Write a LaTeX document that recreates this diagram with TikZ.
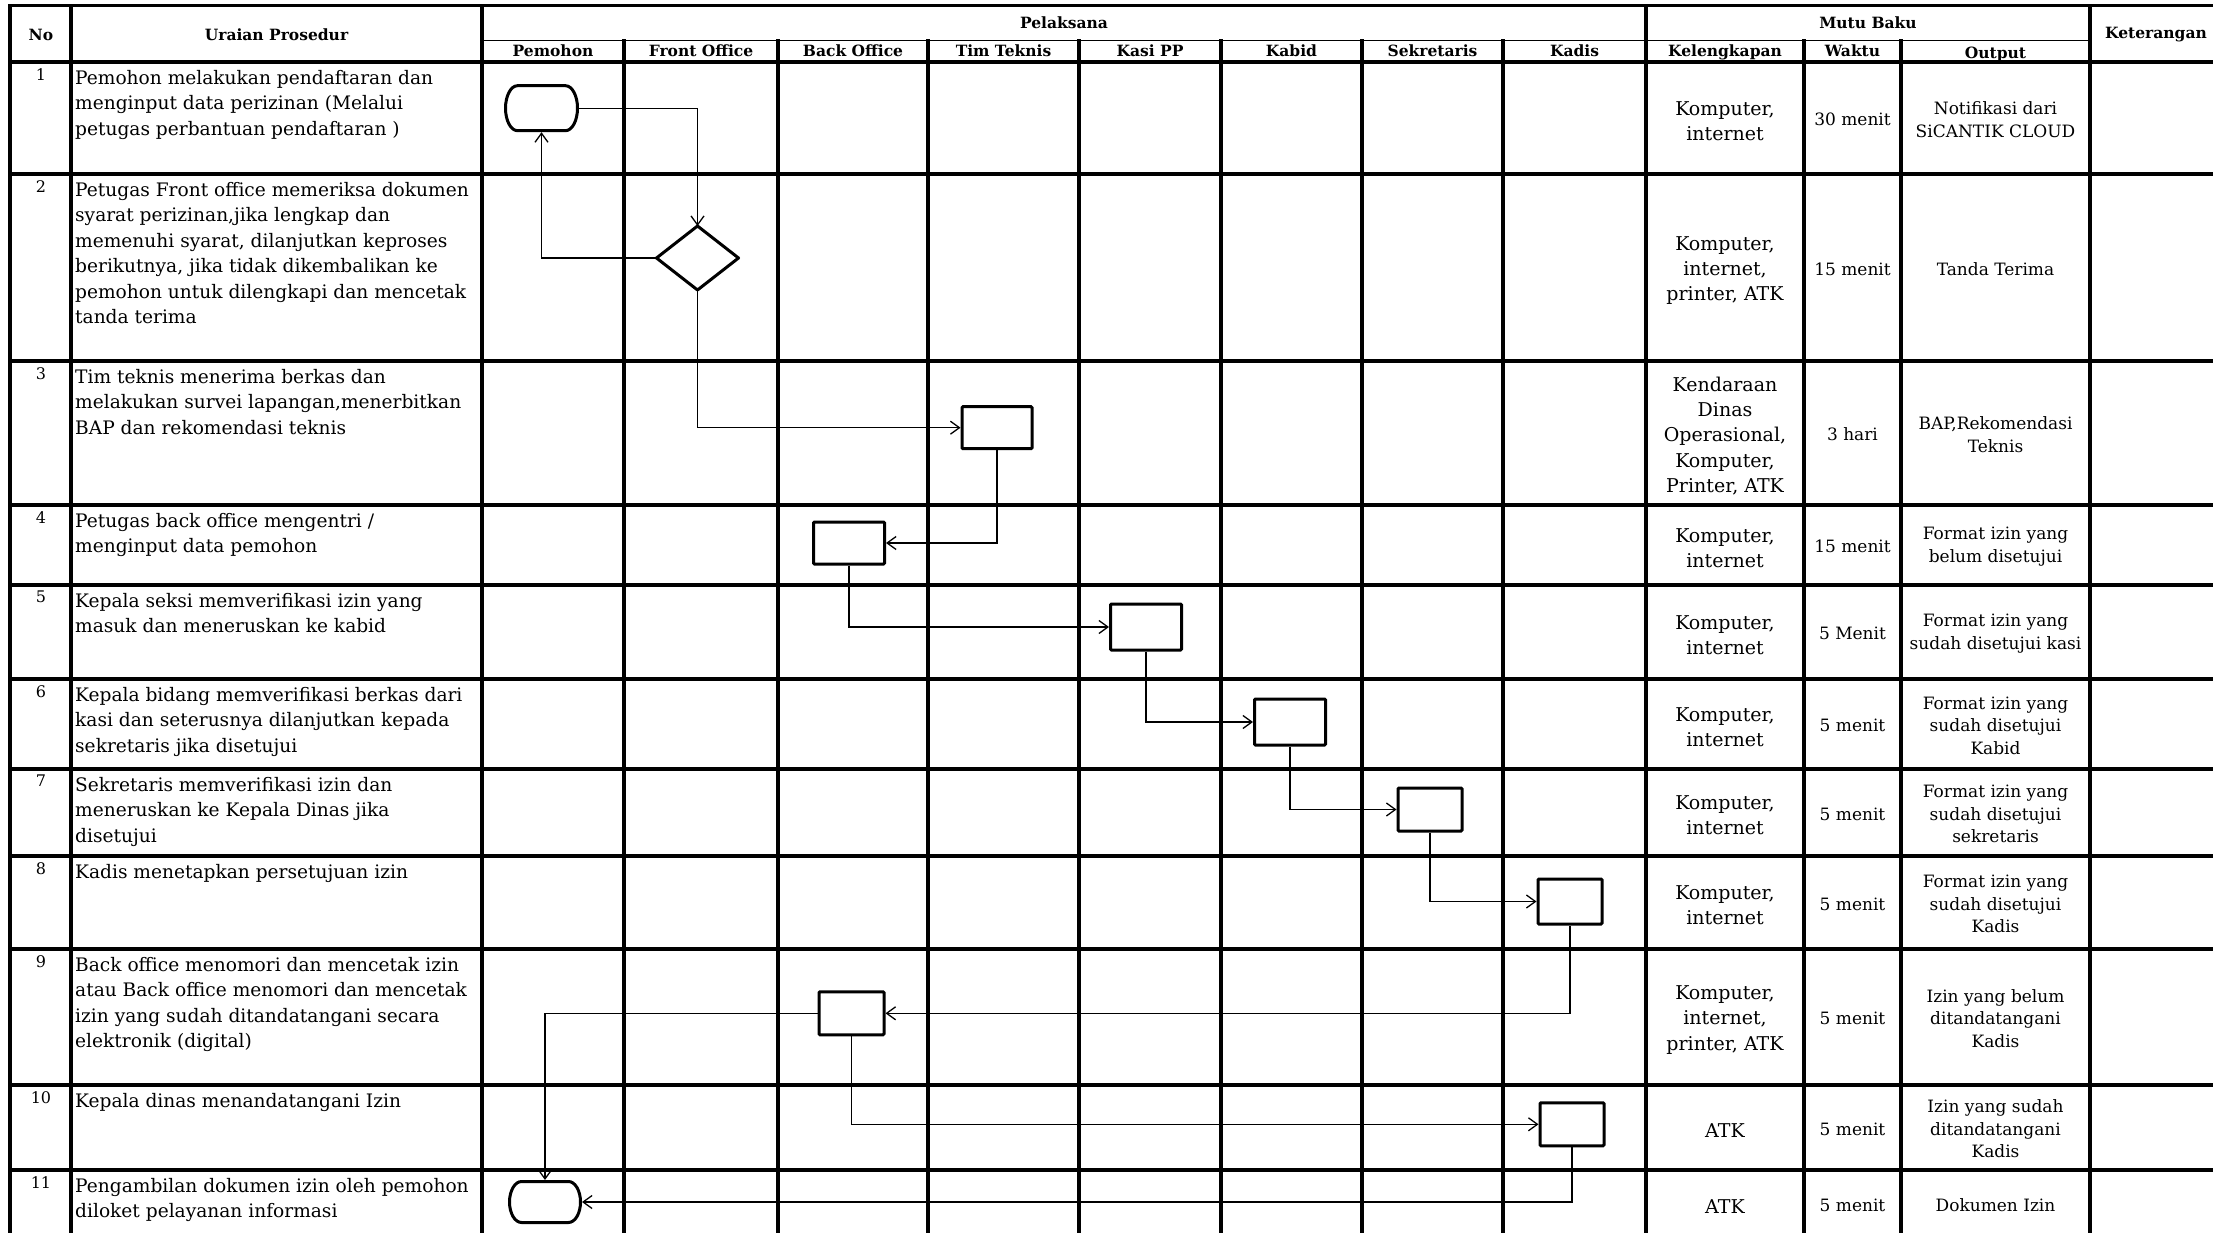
\documentclass[tikz,border=0pt]{standalone}
\usepackage{fontspec}
\setmainfont{DejaVu Serif}
\usetikzlibrary{arrows.meta}
\begin{document}
\begin{tikzpicture}[x=1pt,y=-1pt,
  grid/.style={line width=3.5pt,line cap=rect},
  thingrid/.style={line width=1.8pt},
  hdr/.style={font=\fontsize{15.5}{18}\selectfont\bfseries,inner sep=0,anchor=base},
  num/.style={font=\fontsize{16}{19}\selectfont,inner sep=0,anchor=north},
  uraian/.style={font=\fontsize{18.6}{25.4}\selectfont,inner sep=0,anchor=north west},
  lengkap/.style={font=\fontsize{19}{25.4}\selectfont,inner sep=0,align=center,yshift=-3pt},
  waktu/.style={font=\fontsize{17}{22}\selectfont,inner sep=0,yshift=-1.5pt},
  outp/.style={font=\fontsize{17}{22.6}\selectfont,inner sep=0,align=center,yshift=-1.5pt},
  procbox/.style={draw,line width=3pt,fill=white,inner sep=0,rounded corners=1pt},
  termbox/.style={inner sep=0,outer sep=0,minimum width=72pt,minimum height=45pt},
  shapeline/.style={line width=3pt,fill=white,line join=round},
  conn/.style={line width=1.3pt,-{Straight Barb[length=9pt,width=13pt,line width=1.3pt]}},
  toterm/.style={conn,shorten >=1.5pt}
]
\useasboundingbox (0,0) rectangle (2213,1233);
\clip (0,0) rectangle (2213,1233);
% ---------- grid ----------
\foreach \yy in {5.3,62,174,361,505,585,679,769,856,949,1085,1170}
  \draw[grid] (10,\yy) -- (2230,\yy);
\draw[thingrid] (482,40.5) -- (2090,40.5);
\foreach \xx in {10,71,482,1646,2090}
  \draw[grid] (\xx,5.3) -- (\xx,1250);
\foreach \xx in {624,778,928,1079,1221,1362,1503,1804,1901}
  \draw[grid] (\xx,40.5) -- (\xx,1250);
% ---------- header ----------
\node[hdr] (hno) at (41,40.7) {No};
\node[hdr] (hur) at (276.5,40.7) {Uraian Prosedur};
\node[hdr] (hpel) at (1064,28.3) {Pelaksana};
\node[hdr] (hmutu) at (1868,28.3) {Mutu Baku};
\node[hdr] (hket) at (2156,38.7) {Keterangan};
\node[hdr] (h1) at (553,57) {Pemohon};
\node[hdr] (h2) at (701,57) {Front Office};
\node[hdr] (h3) at (853,57) {Back Office};
\node[hdr] (h4) at (1003.5,57) {Tim Teknis};
\node[hdr] (h5) at (1150,57) {Kasi PP};
\node[hdr] (h6) at (1291.5,57) {Kabid};
\node[hdr] (h7) at (1432.5,57) {Sekretaris};
\node[hdr] (h8) at (1574.5,57) {Kadis};
\node[hdr] (h9) at (1725,57) {Kelengkapan};
\node[hdr] (h10) at (1852.5,57) {Waktu};
\node[hdr] (h11) at (1995.5,58.5) {Output};
% ---------- numbers ----------
\foreach \n/\yy in {1/62,2/174,3/361,4/505,5/585,6/679,7/769,8/856,9/949,10/1085,11/1170}
  \node[num] (n\n) at (41,\yy+6) {\n};
% ---------- uraian ----------
\node[uraian] (u1) at (75,66.5) {\parbox[t]{400pt}{\strut Pemohon melakukan pendaftaran dan\\menginput data perizinan (Melalui\\petugas perbantuan pendaftaran )}};
\node[uraian] (u2) at (75,178.5) {\parbox[t]{400pt}{\strut Petugas Front office memeriksa dokumen\\syarat perizinan,jika lengkap dan\\memenuhi syarat, dilanjutkan keproses\\berikutnya, jika tidak dikembalikan ke\\pemohon untuk dilengkapi dan mencetak\\tanda terima}};
\node[uraian] (u3) at (75,365.5) {\parbox[t]{400pt}{\strut Tim teknis menerima berkas dan\\melakukan survei lapangan,menerbitkan\\BAP dan rekomendasi teknis}};
\node[uraian] (u4) at (75,509.5) {\parbox[t]{400pt}{\strut Petugas back office mengentri /\\menginput data pemohon}};
\node[uraian] (u5) at (75,589.5) {\parbox[t]{400pt}{\strut Kepala seksi memverifikasi izin yang\\masuk dan meneruskan ke kabid}};
\node[uraian] (u6) at (75,683.5) {\parbox[t]{400pt}{\strut Kepala bidang memverifikasi berkas dari\\kasi dan seterusnya dilanjutkan kepada\\sekretaris jika disetujui}};
\node[uraian] (u7) at (75,773.5) {\parbox[t]{400pt}{\strut Sekretaris memverifikasi izin dan\\meneruskan ke Kepala Dinas jika\\disetujui}};
\node[uraian] (u8) at (75,860.5) {\parbox[t]{400pt}{\strut Kadis menetapkan persetujuan izin}};
\node[uraian] (u9) at (75,953.5) {\parbox[t]{400pt}{\strut Back office menomori dan mencetak izin\\atau Back office menomori dan mencetak\\izin yang sudah ditandatangani secara\\elektronik (digital)}};
\node[uraian] (u10) at (75,1089.5) {\parbox[t]{400pt}{\strut Kepala dinas menandatangani Izin}};
\node[uraian] (u11) at (75,1174.5) {\parbox[t]{400pt}{\strut Pengambilan dokumen izin oleh pemohon\\diloket pelayanan informasi}};
% ---------- kelengkapan ----------
\node[lengkap] (k1) at (1725,118) {Komputer,\\internet};
\node[lengkap] (k2) at (1725,267.5) {Komputer,\\internet,\\printer, ATK};
\node[lengkap] (k3) at (1725,433) {Kendaraan\\Dinas\\Operasional,\\Komputer,\\Printer, ATK};
\node[lengkap] (k4) at (1725,545) {Komputer,\\internet};
\node[lengkap] (k5) at (1725,632) {Komputer,\\internet};
\node[lengkap] (k6) at (1725,724) {Komputer,\\internet};
\node[lengkap] (k7) at (1725,812.5) {Komputer,\\internet};
\node[lengkap] (k8) at (1725,902.5) {Komputer,\\internet};
\node[lengkap] (k9) at (1725,1017) {Komputer,\\internet,\\printer, ATK};
\node[lengkap] (k10) at (1725,1127.5) {ATK};
\node[lengkap] (k11) at (1725,1204) {ATK};
% ---------- waktu ----------
\node[waktu] (w1) at (1852.5,118) {30 menit};
\node[waktu] (w2) at (1852.5,267.5) {15 menit};
\node[waktu] (w3) at (1852.5,433) {3 hari};
\node[waktu] (w4) at (1852.5,545) {15 menit};
\node[waktu] (w5) at (1852.5,632) {5 Menit};
\node[waktu] (w6) at (1852.5,724) {5 menit};
\node[waktu] (w7) at (1852.5,812.5) {5 menit};
\node[waktu] (w8) at (1852.5,902.5) {5 menit};
\node[waktu] (w9) at (1852.5,1017) {5 menit};
\node[waktu] (w10) at (1852.5,1127.5) {5 menit};
\node[waktu] (w11) at (1852.5,1204) {5 menit};
% ---------- output ----------
\node[outp] (o1) at (1995.5,118) {Notifikasi dari\\SiCANTIK CLOUD};
\node[outp] (o2) at (1995.5,267.5) {Tanda Terima};
\node[outp] (o3) at (1995.5,433) {BAP,Rekomendasi\\Teknis};
\node[outp] (o4) at (1995.5,545) {Format izin yang\\belum disetujui};
\node[outp] (o5) at (1995.5,632) {Format izin yang\\sudah disetujui kasi};
\node[outp] (o6) at (1995.5,724) {Format izin yang\\sudah disetujui\\Kabid};
\node[outp] (o7) at (1995.5,812.5) {Format izin yang\\sudah disetujui\\sekretaris};
\node[outp] (o8) at (1995.5,902.5) {Format izin yang\\sudah disetujui\\Kadis};
\node[outp] (o9) at (1995.5,1017) {Izin yang belum\\ditandatangani\\Kadis};
\node[outp] (o10) at (1995.5,1127.5) {Izin yang sudah\\ditandatangani\\Kadis};
\node[outp] (o11) at (1995.5,1204) {Dokumen Izin};
% ---------- flow shapes ----------
\node[termbox] (t1) at (541.5,108.2) {};
\draw[shapeline] ([xshift=12pt]t1.north west) -- ([xshift=-12pt]t1.north east)
  .. controls ([xshift=-5.4pt]t1.north east) and ([yshift=12.4pt]t1.east) .. (t1.east)
  .. controls ([yshift=-12.4pt]t1.east) and ([xshift=-5.4pt]t1.south east) .. ([xshift=-12pt]t1.south east)
  -- ([xshift=12pt]t1.south west)
  .. controls ([xshift=5.4pt]t1.south west) and ([yshift=-12.4pt]t1.west) .. (t1.west)
  .. controls ([yshift=12.4pt]t1.west) and ([xshift=5.4pt]t1.north west) .. cycle;
\node[termbox,minimum height=41pt,minimum width=71pt] (t2) at (545,1202) {};
\draw[shapeline] ([xshift=12pt]t2.north west) -- ([xshift=-12pt]t2.north east)
  .. controls ([xshift=-5.4pt]t2.north east) and ([yshift=11.3pt]t2.east) .. (t2.east)
  .. controls ([yshift=-11.3pt]t2.east) and ([xshift=-5.4pt]t2.south east) .. ([xshift=-12pt]t2.south east)
  -- ([xshift=12pt]t2.south west)
  .. controls ([xshift=5.4pt]t2.south west) and ([yshift=-11.3pt]t2.west) .. (t2.west)
  .. controls ([yshift=11.3pt]t2.west) and ([xshift=5.4pt]t2.north west) .. cycle;
\node[inner sep=0,outer sep=0,minimum width=82pt,minimum height=64pt] (d) at (697.5,258) {};
\draw[shapeline] (d.north) -- (d.east) -- (d.south) -- (d.west) -- cycle;
\node[procbox,minimum width=70pt,minimum height=42pt] (tt) at (997,427.7) {};
\node[procbox,minimum width=71pt,minimum height=42pt] (bo4) at (849,543) {};
\node[procbox,minimum width=71pt,minimum height=46pt] (kasi) at (1146,627) {};
\node[procbox,minimum width=71pt,minimum height=46pt] (kabid) at (1290,722) {};
\node[procbox,minimum width=64pt,minimum height=43pt] (sek) at (1430,809.5) {};
\node[procbox,minimum width=64pt,minimum height=45pt] (kd8) at (1570,901.5) {};
\node[procbox,minimum width=65pt,minimum height=43pt] (bo9) at (851.5,1013.3) {};
\node[procbox,minimum width=64pt,minimum height=43pt] (kd10) at (1572,1124.3) {};
% ---------- connectors ----------
\draw[conn] (t1.east) -| (d.north);
\draw[toterm] (d.west) -| (t1.south);
\draw[conn] (d.south) |- (tt.west);
\draw[conn] (tt.south) |- (bo4.east);
\draw[conn] (bo4.south) |- (kasi.west);
\draw[conn] (kasi.south) |- (kabid.west);
\draw[conn] (kabid.south) |- (sek.west);
\draw[conn] (sek.south) |- (kd8.west);
\draw[conn] (kd8.south) |- (bo9.east);
\draw[toterm] (bo9.west) -| (t2.north);
\draw[conn] (bo9.south) |- (kd10.west);
\draw[toterm] (kd10.south) |- (t2.east);
\end{tikzpicture}
\end{document}
